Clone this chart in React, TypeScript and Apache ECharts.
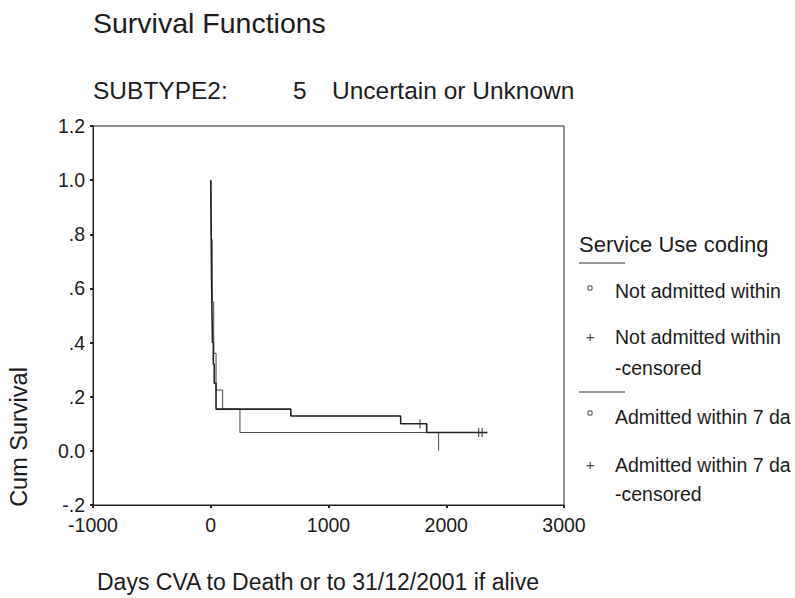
import React, { useEffect, useRef } from "react";
import * as echarts from "echarts";

// Kaplan-Meier steps (days, cumulative survival)
const notAdmittedDays = [0, 3, 6, 10, 15, 22, 30, 45, 680, 1613, 1834, 2350];
const notAdmittedSurvival = [1.0, 0.85, 0.68, 0.52, 0.4, 0.32, 0.25, 0.154, 0.129, 0.1, 0.068, 0.068];
const notAdmittedCensoredDays = [1777, 2275, 2305];
const notAdmittedCensoredSurvival = [0.1, 0.068, 0.068];

const admittedDays = [0, 5, 12, 25, 45, 101, 248, 1935];
const admittedSurvival = [1.0, 0.78, 0.55, 0.36, 0.225, 0.154, 0.068, 0.0];

const yTickValues = [-0.2, 0, 0.2, 0.4, 0.6, 0.8, 1.0, 1.2];
const yTickLabels = ["-.2", "0.0", ".2", ".4", ".6", ".8", "1.0", "1.2"];

const chartTitle = "Survival Functions";
const subtitleLabel = "SUBTYPE2:";
const subtitleCode = "5";
const subtitleValue = "Uncertain or Unknown";
const xAxisTitle = "Days CVA to Death or to 31/12/2001 if alive";
const yAxisTitle = "Cum Survival";
const legendTitle = "Service Use coding";
const legendGroup1 = ["Not admitted within", "Not admitted within", "-censored"];
const legendGroup2 = ["Admitted within 7 da", "Admitted within 7 da", "-censored"];

const FONT = '"Liberation Sans", Arial, Helvetica, sans-serif';
const INK = "#1c1c1c";

export default function App() {
  const ref = useRef<HTMLDivElement>(null);

  useEffect(() => {
    if (!ref.current) return;
    const chart = echarts.init(ref.current, undefined, { renderer: "svg" });

    const txt = (text: string, x: number, y: number, size: number, extra: any = {}) => ({
      type: "text",
      x,
      y,
      ...extra,
      style: {
        text,
        fill: INK,
        font: `${size}px ${FONT}`,
        fontSize: size,
        fontFamily: FONT,
        verticalAlign: "middle",
        align: "left",
        ...(extra.style || {}),
      },
    });

    const legendLine = (y: number) => ({
      type: "line",
      shape: { x1: 579, y1: y, x2: 625, y2: y },
      style: { stroke: "#333", lineWidth: 1 },
    });
    const legendSquare = (y: number) => ({
      type: "rect",
      shape: { x: 588, y: y - 2, width: 4, height: 4 },
      style: { fill: "#fff", stroke: "#444", lineWidth: 1 },
    });
    const legendPlus = (y: number) =>
      txt("+", 590, y, 15, { style: { align: "center", fill: "#444" } });

    const labelFor = (v: number) => {
      const i = yTickValues.findIndex((t) => Math.abs(t - v) < 1e-6);
      return i >= 0 ? yTickLabels[i] : "";
    };

    chart.setOption({
      animation: false,
      backgroundColor: "#fff",
      grid: {
        left: 93,
        top: 126,
        width: 471,
        height: 379,
        show: true,
        borderColor: "#222",
        borderWidth: 1,
        backgroundColor: "transparent",
      },
      xAxis: {
        type: "value",
        min: -1000,
        max: 3000,
        interval: 1000,
        axisLine: { show: true, onZero: false, lineStyle: { color: "#222", width: 1 } },
        axisTick: { show: true, length: 3, lineStyle: { color: "#222", width: 2 } },
        axisLabel: {
          fontSize: 19.5,
          color: INK,
          fontFamily: FONT,
          margin: 10,
          formatter: (v: number) => String(v),
        },
        splitLine: { show: false },
      },
      yAxis: {
        type: "value",
        min: -0.2,
        max: 1.2,
        interval: 0.2,
        axisLine: { show: true, onZero: false, lineStyle: { color: "#222", width: 1 } },
        axisTick: { show: true, length: 3, lineStyle: { color: "#222", width: 2 } },
        axisLabel: {
          fontSize: 19.5,
          color: INK,
          fontFamily: FONT,
          margin: 8,
          formatter: (v: number) => labelFor(v),
        },
        splitLine: { show: false },
      },
      series: [
        {
          name: "Not admitted within",
          type: "line",
          step: "end",
          symbol: "none",
          data: notAdmittedDays.map((d, i) => [d, notAdmittedSurvival[i]]),
          lineStyle: { color: "#222", width: 1.6 },
          z: 3,
        },
        {
          name: "Admitted within 7 da",
          type: "line",
          step: "end",
          symbol: "none",
          data: admittedDays.map((d, i) => [d, admittedSurvival[i]]),
          lineStyle: { color: "#555", width: 1.1 },
          z: 2,
        },
        {
          name: "Not admitted within -censored",
          type: "scatter",
          symbol: "rect",
          symbolSize: [1.3, 9],
          itemStyle: { color: "#333" },
          data: notAdmittedCensoredDays.map((d, i) => [d, notAdmittedCensoredSurvival[i]]),
          z: 4,
        },
      ],
      graphic: [
        txt(chartTitle, 93, 23, 28.5),
        txt(subtitleLabel, 93, 90, 24.5),
        txt(subtitleCode, 293, 90, 24.5),
        txt(subtitleValue, 332, 90, 24.5),
        txt(xAxisTitle, 97, 582, 23),
        {
          type: "text",
          x: 19,
          y: 437,
          rotation: Math.PI / 2,
          style: {
            text: yAxisTitle,
            fill: INK,
            font: `23.5px ${FONT}`,
            fontSize: 23.5,
            fontFamily: FONT,
            align: "center",
            verticalAlign: "middle",
          },
        },
        txt(legendTitle, 579, 244, 22),
        legendLine(263),
        legendSquare(288),
        txt(legendGroup1[0], 615, 291, 19.5),
        legendPlus(336),
        txt(legendGroup1[1], 615, 337, 19.5),
        txt(legendGroup1[2], 615, 368, 19.5),
        legendLine(392),
        legendSquare(413),
        txt(legendGroup2[0], 615, 417, 19.5),
        legendPlus(464),
        txt(legendGroup2[1], 615, 465, 19.5),
        txt(legendGroup2[2], 615, 494, 19.5),
      ],
    });

    return () => chart.dispose();
  }, []);

  return (
    <div
      ref={ref}
      style={{ position: "absolute", left: 0, top: 0, width: 795, height: 598, background: "#fff" }}
    />
  );
}
